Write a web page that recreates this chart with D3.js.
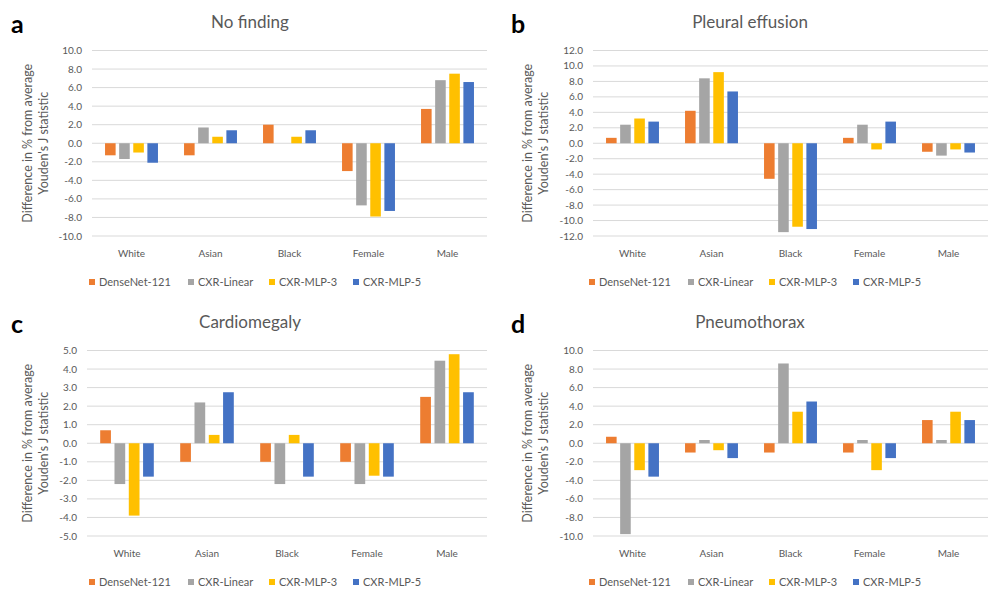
<!DOCTYPE html>
<html>
<head>
<meta charset="utf-8">
<script src="https://cdn.jsdelivr.net/npm/d3@7"></script>
<style>
  html, body { margin: 0; padding: 0; background: #fff; }
  svg { display: block; }
  text { font-family: Lato, "Open Sans", sans-serif; }
</style>
</head>
<body>
<svg id="chart" width="1000" height="598"></svg>
<script>
// ---------- DATA ----------
const categories = ["White", "Asian", "Black", "Female", "Male"];
const models = ["DenseNet-121", "CXR-Linear", "CXR-MLP-3", "CXR-MLP-5"];
const modelColors = ["#ED7D31", "#A5A5A5", "#FFC000", "#4472C4"];

// rows: models, columns: categories
const noFindingValues = [
  [-1.3, -1.3, 2.0, -3.0, 3.7],
  [-1.7, 1.7, 0.0, -6.7, 6.8],
  [-1.0, 0.7, 0.7, -7.9, 7.5],
  [-2.1, 1.4, 1.4, -7.3, 6.6]
];
const pleuralEffusionValues = [
  [0.7, 4.2, -4.6, 0.7, -1.1],
  [2.4, 8.4, -11.5, 2.4, -1.6],
  [3.2, 9.2, -10.8, -0.8, -0.8],
  [2.8, 6.7, -11.1, 2.8, -1.2]
];
const cardiomegalyValues = [
  [0.7, -1.0, -1.0, -1.0, 2.5],
  [-2.2, 2.2, -2.2, -2.2, 4.45],
  [-3.9, 0.45, 0.45, -1.75, 4.8],
  [-1.8, 2.75, -1.8, -1.8, 2.75]
];
const pneumothoraxValues = [
  [0.7, -1.0, -1.0, -1.0, 2.5],
  [-9.8, 0.35, 8.6, 0.35, 0.35],
  [-2.9, -0.75, 3.4, -2.9, 3.4],
  [-3.6, -1.6, 4.5, -1.6, 2.5]
];

const ticksAB = [-10, -8, -6, -4, -2, 0, 2, 4, 6, 8, 10];
const ticksPleural = [-12, -10, -8, -6, -4, -2, 0, 2, 4, 6, 8, 10, 12];
const ticksCardio = [-5, -4, -3, -2, -1, 0, 1, 2, 3, 4, 5];

const panels = [
  { letter: "a", title: "No finding", values: noFindingValues, ticks: ticksAB, ox: 0, oy: 0, left: 92, right: 487 },
  { letter: "b", title: "Pleural effusion", values: pleuralEffusionValues, ticks: ticksPleural, ox: 500, oy: 0, left: 93, right: 488 },
  { letter: "c", title: "Cardiomegaly", values: cardiomegalyValues, ticks: ticksCardio, ox: 0, oy: 300, left: 87, right: 487 },
  { letter: "d", title: "Pneumothorax", values: pneumothoraxValues, ticks: ticksAB, ox: 500, oy: 300, left: 93, right: 488 }
];

const yLabel1 = "Difference in % from average";
const yLabel2 = "Youden's J statistic";

// ---------- DRAW ----------
const svg = d3.select("#chart");
const textColor = "#595959";

panels.forEach(p => {
  const g = svg.append("g").attr("transform", `translate(${p.ox},${p.oy})`);
  const top = 50.5, bottom = 236;
  const y = d3.scaleLinear().domain([d3.min(p.ticks), d3.max(p.ticks)]).range([bottom, top]);
  const x0 = d3.scaleBand().domain(categories).range([p.left, p.right]).padding(0);
  const x1 = d3.scaleBand().domain(models)
    .range([x0.bandwidth() * 0.165, x0.bandwidth() * 0.835])
    .paddingInner(0.25).paddingOuter(0);

  // gridlines
  g.append("g").selectAll("line").data(p.ticks).join("line")
    .attr("x1", p.left).attr("x2", p.right)
    .attr("y1", d => y(d)).attr("y2", d => y(d))
    .attr("stroke", "#D9D9D9").attr("stroke-width", 1);

  // y tick labels
  g.append("g").selectAll("text").data(p.ticks).join("text")
    .attr("x", p.left - 10).attr("y", d => y(d))
    .attr("dy", "0.35em").attr("text-anchor", "end")
    .attr("font-size", 10).attr("fill", textColor)
    .text(d => d.toFixed(1));

  // bars
  const bars = [];
  p.values.forEach((row, mi) => row.forEach((v, ci) => bars.push({ m: models[mi], c: categories[ci], v, color: modelColors[mi] })));
  g.append("g").selectAll("rect").data(bars).join("rect")
    .attr("x", d => x0(d.c) + x1(d.m))
    .attr("width", x1.bandwidth())
    .attr("y", d => Math.min(y(d.v), y(0)))
    .attr("height", d => Math.abs(y(d.v) - y(0)))
    .attr("fill", d => d.color);

  // category labels
  g.append("g").selectAll("text").data(categories).join("text")
    .attr("x", d => x0(d) + x0.bandwidth() / 2).attr("y", 257)
    .attr("text-anchor", "middle").attr("font-size", 10).attr("fill", textColor)
    .text(d => d);

  // title
  g.append("text").attr("x", 250).attr("y", 28).attr("text-anchor", "middle")
    .attr("font-size", 17).attr("fill", textColor).text(p.title);

  // panel letter
  g.append("text").attr("x", 11).attr("y", 33)
    .attr("font-family", "'Liberation Sans', Arial, sans-serif")
    .attr("font-weight", "bold").attr("font-size", 25).attr("fill", "#000").text(p.letter);

  // y axis title
  const yc = (top + bottom) / 2;
  g.append("text").attr("transform", `translate(32,${yc}) rotate(-90)`)
    .attr("text-anchor", "middle").attr("font-size", 12.5).attr("fill", textColor).text(yLabel1);
  g.append("text").attr("transform", `translate(48,${yc}) rotate(-90)`)
    .attr("text-anchor", "middle").attr("font-size", 12.5).attr("fill", textColor).text(yLabel2);

  // legend
  const legX = [89, 188, 269, 353];
  const lg = g.append("g").selectAll("g").data(models).join("g")
    .attr("transform", (d, i) => `translate(${legX[i]},282)`);
  lg.append("rect").attr("x", 0).attr("y", -3).attr("width", 6).attr("height", 6)
    .attr("fill", (d, i) => modelColors[i]);
  lg.append("text").attr("x", 10).attr("y", 0).attr("dy", "0.35em")
    .attr("font-size", 11).attr("fill", textColor).text(d => d);
});
</script>
</body>
</html>
